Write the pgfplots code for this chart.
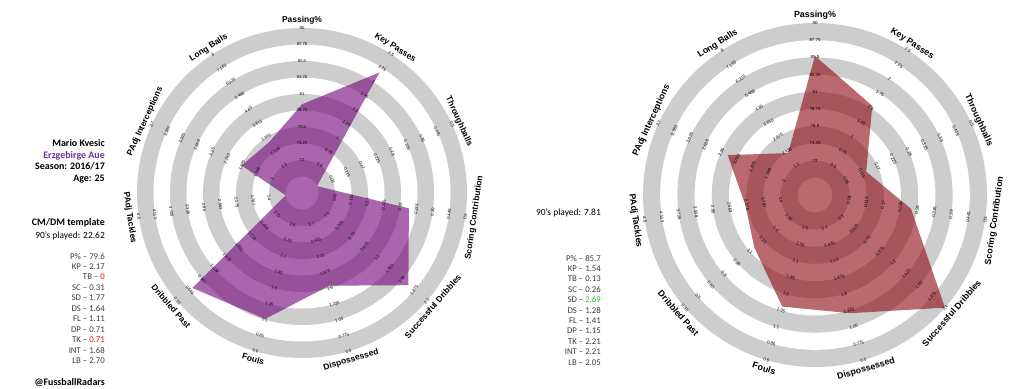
\documentclass[border=0pt]{standalone}
\usepackage{pgfplots}
\pgfplotsset{compat=1.18}
\usepackage{pgfplotstable}
\usepackage{fontspec}
\setmainfont{Carlito}
\newfontfamily\arial{Liberation Sans}
\definecolor{ringgray}{RGB}{205,205,205}
\definecolor{radpurple}{RGB}{112,0,120}
\definecolor{radred}{RGB}{140,8,14}
\definecolor{auepurple}{RGB}{112,48,160}
\definecolor{statgray}{RGB}{60,60,60}
\definecolor{sdgreen}{RGB}{40,200,40}

% angle, value, inner-ring value, step per ring
\pgfplotstableread{
ang v lo st
90 79.6 72 2.25
57.2727 2.17 0.5 0.25
24.5455 0 0.06 0.055
-8.1818 0.31 0.06 0.055
-40.9091 1.77 0.3 0.225
-73.6364 1.64 2.7 -0.275
-106.3636 1.11 2.6 -0.25
-139.0909 0.71 2.72 -0.29625
-171.8182 0.71 1.4 0.3875
-204.5455 1.68 1 0.3375
-237.2727 2.70 1.3 0.8375
-270 79.6 72 2.25
}\leftdata

\pgfplotstableread{
ang v lo st
90 85.7 72 2.25
57.2727 1.54 0.5 0.25
24.5455 0.13 0.06 0.055
-8.1818 0.26 0.06 0.055
-40.9091 2.69 0.3 0.225
-73.6364 1.28 2.7 -0.275
-106.3636 1.41 2.6 -0.25
-139.0909 1.15 1.55 -0.15
-171.8182 2.21 1.4 0.3875
-204.5455 2.21 1 0.3375
-237.2727 2.05 1.3 0.8375
-270 85.7 72 2.25
}\rightdata

\newcommand\rings[3]{%
 \begin{scope}[shift={(#1bp,#2bp)}]
  \foreach \r/\c in {10/ringgray,9/white,8/ringgray,7/white,6/ringgray,5/white,4/ringgray,3/white,2/ringgray,1/white}{
    \fill[\c] (0,0) circle[radius={\r*#3bp}];
  }
 \end{scope}}

\newcommand\radarlabels[6]{%
 \begin{scope}[shift={(#1bp,#2bp)}]
  \foreach \i/\labs in {0/{72,74.25,76.5,78.75,81,83.25,85.5,87.75,90},1/{0.5,0.75,1,1.25,1.5,1.75,2,2.25,2.5},2/{0.06,0.115,0.17,0.225,0.28,0.335,0.39,0.445,0.5},3/{0.06,0.115,0.17,0.225,0.28,0.335,0.39,0.445,0.5},4/{0.3,0.525,0.75,0.975,1.2,1.425,1.65,1.875,2.1},5/{2.7,2.425,2.15,1.875,1.6,1.325,1.05,0.775,0.5},6/{2.6,2.35,2.1,1.85,1.6,1.35,1.1,0.85,0.6},7/{#4},8/{1.4,1.787,2.175,2.563,2.95,3.338,3.725,4.113,4.5},9/{1,1.338,1.675,2.013,2.35,2.688,3.025,3.363,3.7},10/{1.3,2.138,2.975,3.813,4.65,5.488,6.325,7.163,8}}{
    \pgfmathsetmacro\ang{90-\i*360/11}
    \pgfmathsetmacro\rot{((\i<3)||(\i>8)) ? \ang-90 : \ang+90}
    \foreach \l [count=\k from 2] in \labs {
      \node[font=\arial\fontsize{#5}{#5}\selectfont, rotate=\rot, inner sep=0pt] at (\ang:{\k*#3bp}) {\l};
    }
  }
  \foreach \i/\nm in {0/Passing\%,1/Key Passes,2/Throughballs,3/Scoring Contribution,4/Successful Dribbles,5/Dispossessed,6/Fouls,7/Dribbled Past,8/PAdj Tackles,9/PAdj Interceptions,10/Long Balls}{
    \pgfmathsetmacro\ang{90-\i*360/11}
    \pgfmathtruncatemacro\istop{((\i<3)||(\i>8)) ? 1 : 0}
    \ifnum\istop=1
      \node[font=\arial\bfseries\fontsize{#6}{#6}\selectfont, rotate=\ang-90, anchor=south, inner sep=0pt] at (\ang:{10.2*#3bp}) {\nm};
    \else
      \node[font=\arial\bfseries\fontsize{#6}{#6}\selectfont, rotate=\ang+90, anchor=north, inner sep=0pt] at (\ang:{10.3*#3bp}) {\nm};
    \fi
  }
 \end{scope}}

\begin{document}
\begin{tikzpicture}
\useasboundingbox (0,0) rectangle (1024bp,389bp);
\fill[white] (0,0) rectangle (1024bp,389bp);

\rings{302}{196}{16.5}
\rings{815}{194}{17.2}

\begin{axis}[at={(302bp,196bp)}, anchor=origin, x=16.5bp, y=16.5bp,
  xmin=-11, xmax=11, ymin=-11, ymax=11, hide axis, clip=false]
\addplot[draw=none, fill=radpurple, fill opacity=0.6, data cs=polar]
  table[x=ang, y expr={max(1,min(10,2+(\thisrow{v}-\thisrow{lo})/\thisrow{st}))}] {\leftdata};
\end{axis}

\begin{axis}[at={(815bp,194bp)}, anchor=origin, x=17.2bp, y=17.2bp,
  xmin=-11, xmax=11, ymin=-11, ymax=11, hide axis, clip=false]
\addplot[draw=none, fill=radred, fill opacity=0.6, data cs=polar]
  table[x=ang, y expr={max(1,min(10,2+(\thisrow{v}-\thisrow{lo})/\thisrow{st}))}] {\rightdata};
\end{axis}

\radarlabels{302}{196}{16.5}{2.72,2.424,2.128,1.831,1.535,1.239,0.943,0.646,0.35}{4.2}{8.5}
\radarlabels{815}{194}{17.2}{1.55,1.4,1.25,1.1,0.95,0.8,0.65,0.5,0.35}{4.4}{8.9}

% left side text
\begin{scope}[every node/.style={anchor=base east, inner sep=0pt}]
\node[font=\bfseries\fontsize{10}{12}\selectfont] at (105bp,242.5bp) {Mario Kvesic};
\node[font=\bfseries\fontsize{10}{12}\selectfont, text=auepurple] at (105bp,230.8bp) {Erzgebirge Aue};
\node[font=\bfseries\fontsize{10}{12}\selectfont] at (105bp,219.2bp) {Season: 2016/17};
\node[font=\bfseries\fontsize{10}{12}\selectfont] at (105bp,207.5bp) {Age: 25};
\node[font=\bfseries\fontsize{10}{12}\selectfont] at (105bp,163bp) {CM/DM template};
\node[font=\fontsize{9.5}{11}\selectfont] at (105bp,150.7bp) {90’s played: 22.62};
\foreach \t [count=\n from 0] in {P\% – 79.6,KP – 2.17,TB – \textcolor{red}{0},SC – 0.31,SD – 1.77,DS – 1.64,FL – 1.11,DP – 0.71,TK – \textcolor{red}{0.71},INT – 1.68,LB – 2.70}{
  \node[font=\fontsize{8.8}{10}\selectfont, text=statgray] at (105bp,{(130-\n*10.45)*1bp}) {\t};
}
\node[font=\bfseries\fontsize{10}{12}\selectfont] at (105bp,4bp) {@FussballRadars};

% right side text
\node[font=\fontsize{9.5}{11}\selectfont] at (601bp,173.7bp) {90’s played: 7.81};
\foreach \t [count=\n from 0] in {P\% – 85.7,KP – 1.54,TB – 0.13,SC – 0.26,SD – \textcolor{sdgreen}{2.69},DS – 1.28,FL – 1.41,DP – 1.15,TK – 2.21,INT – 2.21,LB – 2.05}{
  \node[font=\fontsize{8.8}{10}\selectfont, text=statgray] at (601bp,{(128-\n*10.4)*1bp}) {\t};
}
\end{scope}
\end{tikzpicture}
\end{document}
